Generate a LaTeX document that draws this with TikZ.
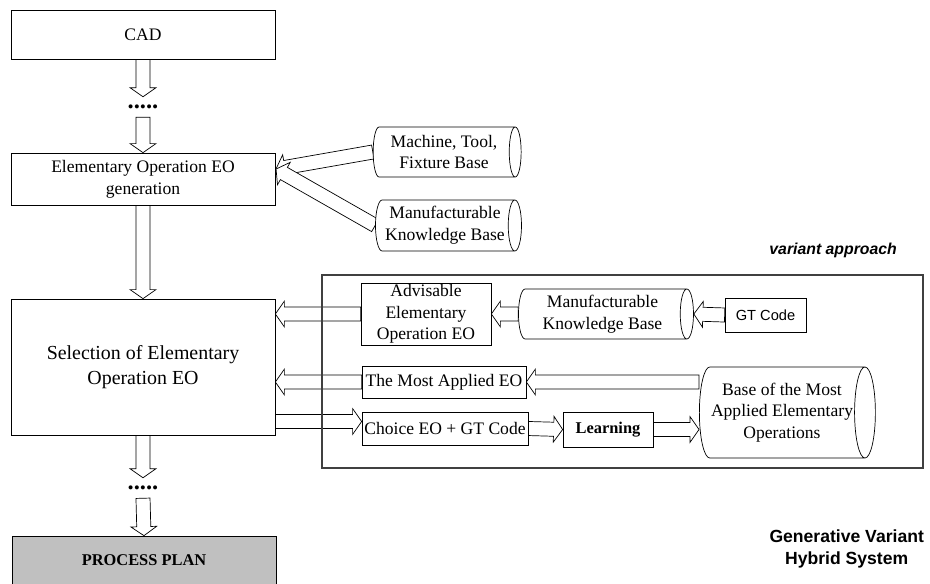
\documentclass[tikz,border=0pt]{standalone}
\usepackage{fontspec}
\setmainfont{Liberation Serif}
\setsansfont{Liberation Sans}
\usepackage{tikz}
\usetikzlibrary{positioning,calc,shapes.geometric,backgrounds}

\definecolor{planfill}{RGB}{192,192,192}

\def\pxu{0.03cm}
\def\shaftw{6pt}
\def\headw{11pt}
\def\headlen{7.7pt}

% hollow block arrow from #1 to #2
\newcommand{\blockarrow}[2]{%
  \path let \p1=(#1), \p2=(#2) in \pgfextra{%
    \pgfmathsetmacro\baang{atan2(\y2-\y1,\x2-\x1)}%
    \pgfmathsetmacro\balen{veclen(\x2-\x1,\y2-\y1)}%
    \xdef\baang{\baang}\xdef\balen{\balen}};
  \begin{pgfonlayer}{background}
  \draw[hollow, shift={(#1)}, rotate=\baang]
    (0pt,-\shaftw) -- ({\balen pt-\headlen},-\shaftw) -- ({\balen pt-\headlen},-\headw)
    -- (\balen pt,0pt) -- ({\balen pt-\headlen},\headw) -- ({\balen pt-\headlen},\shaftw)
    -- (0pt,\shaftw) -- cycle;
  \end{pgfonlayer}
}

\begin{document}
\begin{tikzpicture}[x=\pxu, y=-\pxu,
    every node/.style={font=\fontsize{15}{18.5}\selectfont, align=center},
    box/.style={draw, fill=white, line width=0.6pt, inner sep=0pt},
    db/.style={cylinder, draw, fill=white, line width=0.6pt, shape aspect=0.35, inner sep=0pt},
    hollow/.style={draw, fill=white, line width=0.6pt},
    dots/.style={font=\fontsize{21}{21}\selectfont\bfseries, inner sep=0pt, minimum height=20*\pxu}]
  \useasboundingbox (0,0) rectangle (930,583);

  % main column
  \node[box, minimum width=264*\pxu, minimum height=49*\pxu] (cad) at (143,34.5) {CAD};
  \node[dots] (dotsA) at (143,107) {.....};
  \node[box, minimum width=264*\pxu, minimum height=52*\pxu] (eogen)
      at (143,179) {Elementary Operation EO\\generation};
  \node[box, minimum width=264*\pxu, minimum height=136*\pxu,
        font=\fontsize{17}{21}\selectfont] (select)
      at (143,367) {Selection of Elementary\\Operation EO};
  \node[dots] (dotsB) at (143,488) {.....};
  \node[box, fill=planfill, minimum width=264*\pxu, minimum height=48*\pxu,
        font=\fontsize{14}{16}\selectfont\bfseries] (plan)
      at (144,560) {PROCESS PLAN};

  % generative bases (cylinder: height along the axis)
  \node[db, minimum height=148*\pxu, minimum width=50*\pxu] (mtf)
      at (444,152) {Machine, Tool,\\Fixture Base};
  \node[db, minimum height=146*\pxu, minimum width=51*\pxu] (mkbA)
      at (445,225.5) {Manufacturable\\Knowledge Base};
  \coordinate (eotip) at (276,169);

  % variant approach
  \node[draw=black!75, line width=0.9pt, minimum width=601*\pxu,
        minimum height=193*\pxu, inner sep=0pt] (variant) at (622.5,371.5) {};
  \node[anchor=east, font=\sffamily\bfseries\itshape\fontsize{13.5}{16}\selectfont] (varlabel)
      at (901,250) {variant approach};
  \node[box, minimum width=130*\pxu, minimum height=62*\pxu] (advis)
      at (426,314) {Advisable\\Elementary\\Operation EO};
  \node[db, minimum height=175*\pxu, minimum width=50*\pxu] (mkbB)
      at (602.5,314) {Manufacturable\\Knowledge Base};
  \node[box, minimum width=81*\pxu, minimum height=34*\pxu,
        font=\sffamily\fontsize{12.5}{15}\selectfont] (gtcode)
      at (765.5,315) {GT Code};
  \node[box, minimum width=164*\pxu, minimum height=32*\pxu] (mostapp)
      at (444,382) {The Most Applied EO};
  \node[box, minimum width=166*\pxu, minimum height=33*\pxu] (choice)
      at (445,428.5) {Choice EO + GT Code};
  \node[box, minimum width=90*\pxu, minimum height=35*\pxu,
        font=\fontsize{14}{16}\selectfont\bfseries] (learn)
      at (608,429.5) {Learning};
  \node[db, minimum height=176*\pxu, minimum width=91*\pxu] (baseapp)
      at (782,412.5) {Base of the Most\\Applied Elementary\\Operations};
  \coordinate (chin) at ($(choice.west)+(0,-7)$);

  \node[anchor=east, font=\sffamily\bfseries\fontsize{15}{18.5}\selectfont] (hybrid)
      at (928,549) {Generative Variant\\Hybrid System};

  % connectors
  \blockarrow{cad.south}{dotsA.north}
  \blockarrow{dotsA.south}{eogen.north}
  \blockarrow{mtf.west}{eotip}
  \blockarrow{mkbA.west}{eotip}
  \blockarrow{eogen.south}{select.north}
  \blockarrow{select.south}{dotsB.north}
  \blockarrow{dotsB.south}{plan.north}
  \blockarrow{gtcode.west}{mkbB.east}
  \blockarrow{mkbB.west}{advis.east}
  \blockarrow{advis.west}{advis.west -| select.east}
  \blockarrow{mostapp.east -| baseapp.west}{mostapp.east}
  \blockarrow{mostapp.west}{mostapp.west -| select.east}
  \blockarrow{chin -| select.east}{chin}
  \blockarrow{choice.east}{learn.west}
  \blockarrow{learn.east}{learn.east -| baseapp.west}
\end{tikzpicture}
\end{document}
